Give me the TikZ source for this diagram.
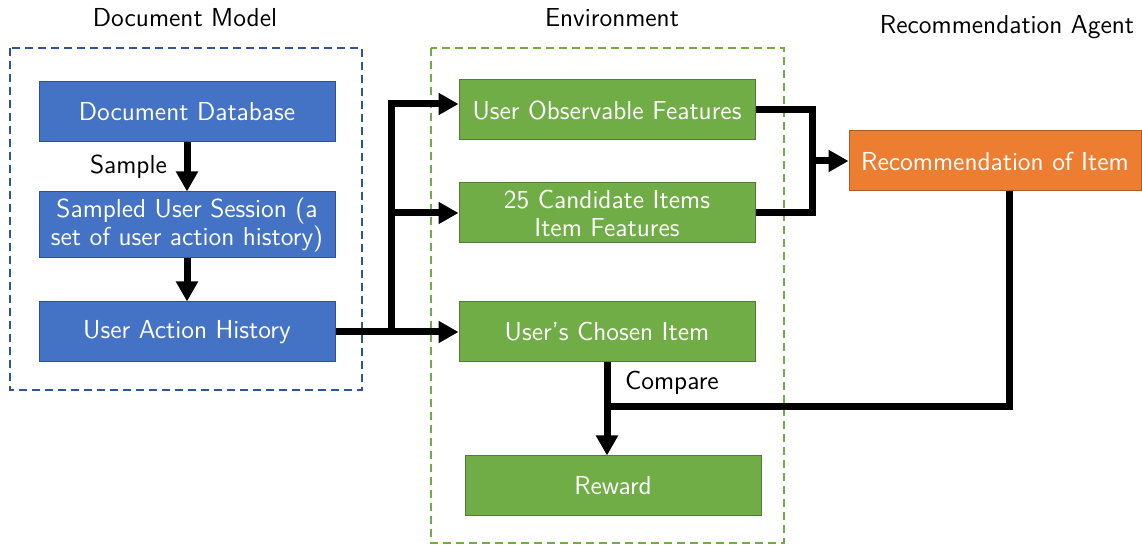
\documentclass[tikz,border=0pt]{standalone}
\usepackage{tikz}
\usetikzlibrary{arrows.meta}

\definecolor{docblue}{HTML}{4472C4}
\definecolor{docblueline}{HTML}{2F528F}
\definecolor{docframe}{HTML}{2F5597}
\definecolor{envgreen}{HTML}{70AD47}
\definecolor{envgreenline}{HTML}{507E32}
\definecolor{recorange}{HTML}{ED7D31}
\definecolor{recorangeline}{HTML}{AE5A21}

\begin{document}
\begin{tikzpicture}[x=0.5pt,y=-0.5pt,font=\sffamily\fontsize{13}{14}\selectfont]
    \tikzstyle{box}=[draw, line width=0.5pt, minimum width=148pt, minimum height=30pt, text=white, align=center, inner sep=0pt]
    \tikzstyle{bluebox}=[box, fill=docblue, draw=docblueline]
    \tikzstyle{greenbox}=[box, fill=envgreen, draw=envgreenline]
    \tikzstyle{orangebox}=[box, fill=recorange, draw=recorangeline, minimum width=146pt]
    \tikzstyle{frame}=[line width=1pt, dash pattern=on 4pt off 2.5pt]
    \tikzstyle{line}=[line width=3.5pt]
    \tikzstyle{flow}=[line, -{Triangle[length=10pt,width=10.5pt]}]

    \useasboundingbox (0,0) rectangle (1142,545);

    % dashed groups
    \draw[frame, docframe] (10,48) rectangle (362,390);
    \draw[frame, envgreen] (431,48) rectangle (784,543);

    % titles
    \node (doctitle) at (185,18) {Document Model};
    \node (envtitle) at (612,18) {Environment};
    \node (agenttitle) at (1007,27) {Recommendation Agent};

    % document model
    \node (docdb) [bluebox] at (187,112) {Document Database};
    \node (session) [bluebox, minimum height=33pt] at (187,225) {Sampled User Session (a\\set of user action history)};
    \node (history) [bluebox] at (187,332) {User Action History};

    % environment
    \node (observable) [greenbox] at (607,110) {User Observable Features};
    \node (candidates) [greenbox] at (607,213) {25 Candidate Items\\Item Features};
    \node (chosen) [greenbox] at (607,332) {User's Chosen Item};
    \node (reward) [greenbox] at (613,486) {Reward};

    % agent
    \node (recommend) [orangebox] at (995,161) {Recommendation of Item};

    \coordinate (split) at (391,332);
    \coordinate (merge) at (812,161);
    \coordinate (join) at (608,407);

    \draw[flow] (docdb) -- node[left=5pt] {Sample} (session);
    \draw[flow] (session) -- (history);

    \draw[flow] (history.east) -- (split) -- (chosen.west);
    \draw[flow] (split) |- ([yshift=3pt]observable.west);
    \draw[flow] (split) |- (candidates.west);

    \draw[line] (observable.east) -| (merge);
    \draw[line] (candidates.east) -| (merge);
    \draw[flow] (merge) -- (recommend.west);

    \draw[line] ([xshift=7pt]recommend.south) |- (join);
    \draw[flow] (chosen.south) -- (chosen.south |- reward.north);
    \node (comparelabel) [right] at (618,383) {Compare};
\end{tikzpicture}
\end{document}
